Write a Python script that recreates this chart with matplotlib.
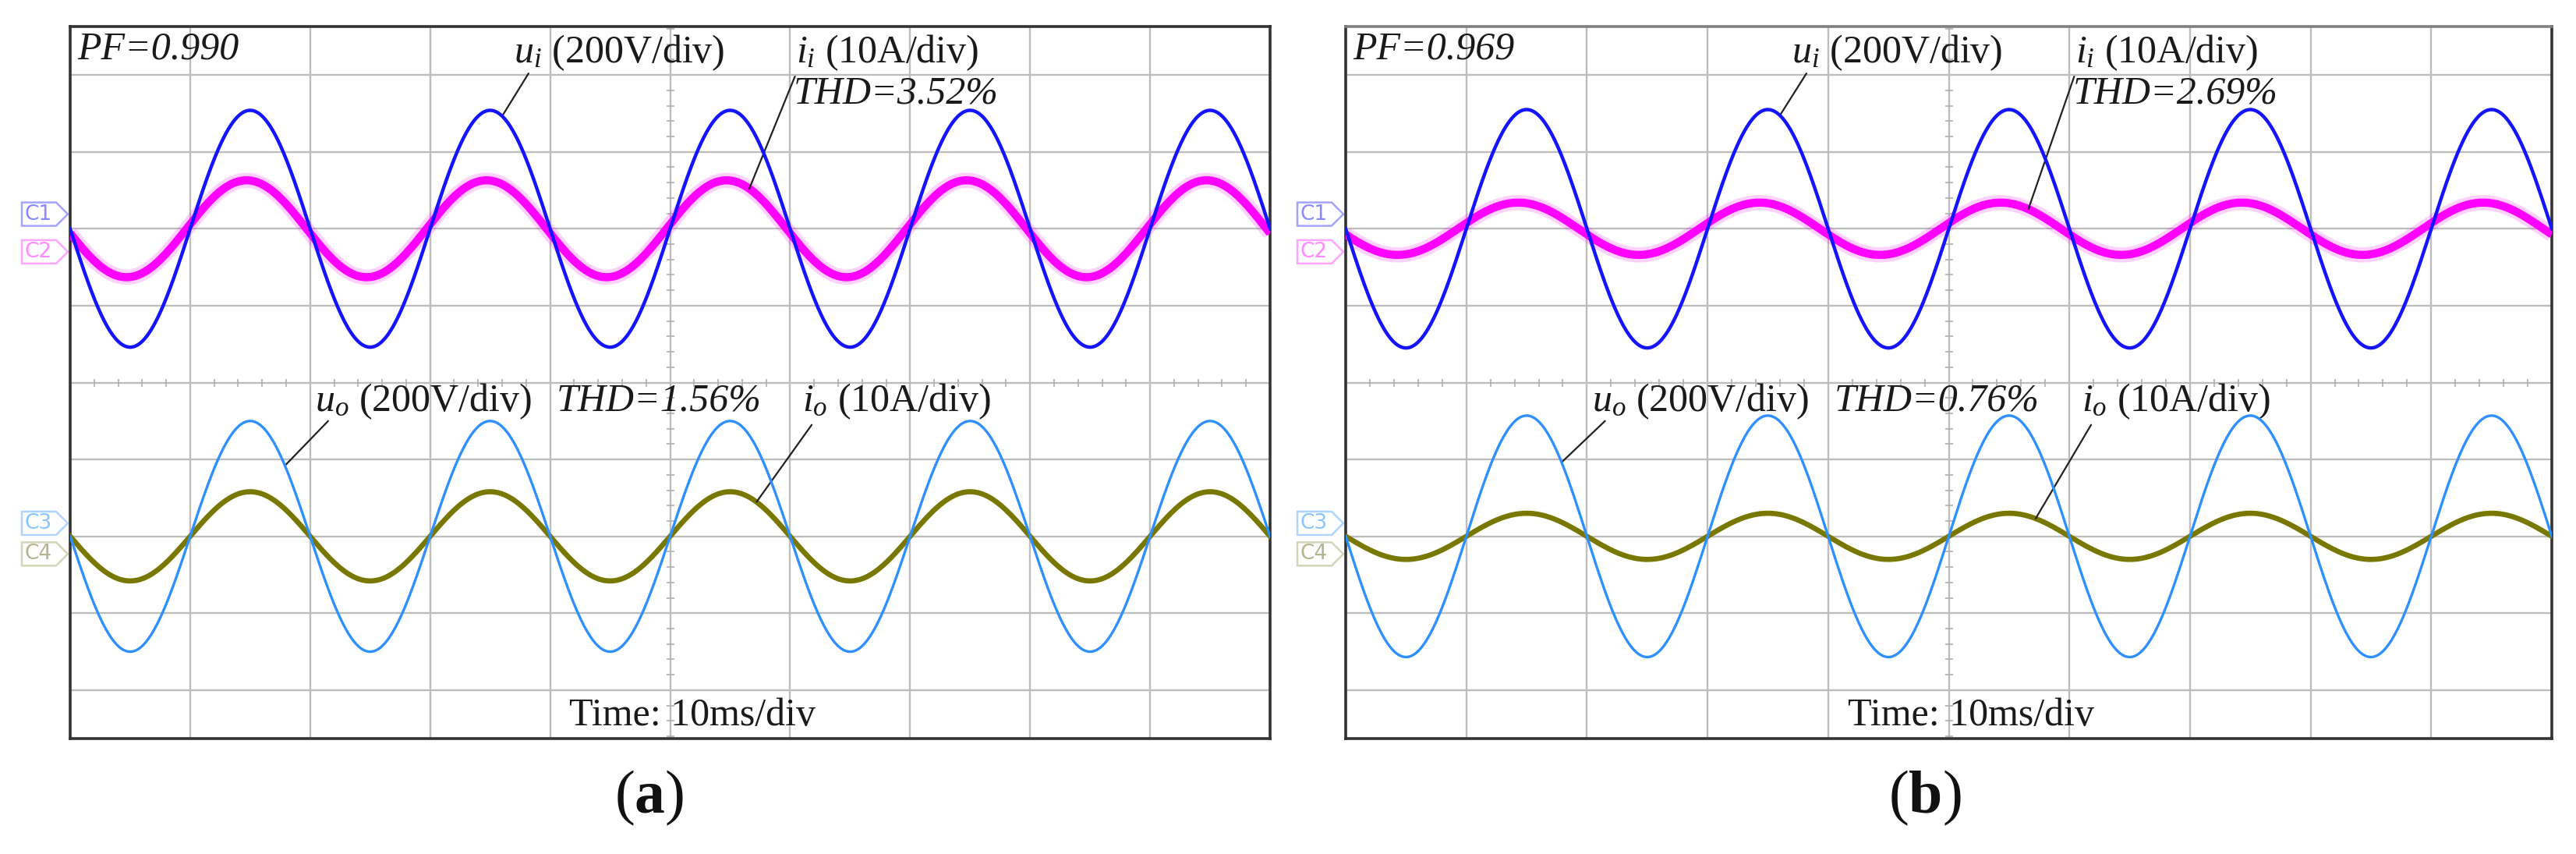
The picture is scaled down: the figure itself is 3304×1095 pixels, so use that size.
import numpy as np
import matplotlib
matplotlib.use('Agg')
from matplotlib import pyplot as plt
from matplotlib.patches import Polygon

plt.rcParams['font.family'] = 'Liberation Serif'
plt.rcParams['mathtext.fontset'] = 'custom'
plt.rcParams['mathtext.rm'] = 'Liberation Serif'
plt.rcParams['mathtext.it'] = 'Liberation Serif:italic'
plt.rcParams['mathtext.bf'] = 'Liberation Serif:bold'

# scope settings
time_per_div = 10.0    # ms/div
n_hdiv = 10
volt_per_div = 200.0   # V/div
amp_per_div = 10.0     # A/div
freq = 50.0            # Hz

panels = ['a', 'b']
pf = ['0.990', '0.969']
thd_in = ['3.52%', '2.69%']
thd_out = ['1.56%', '0.76%']

# peak values
ui_peak = [308.0, 310.0]   # V
ii_peak = [6.3, 3.4]       # A
uo_peak = [300.0, 314.0]   # V
io_peak = [5.8, 3.0]       # A
ii_lead = [0.3, 0.7]       # ms, input current ahead of input voltage

# channel reference levels (div from screen centre)
in_level = 2.0
out_level = -2.0

W, H = 3304, 1095
fig = plt.figure(figsize=(W / 100, H / 100), dpi=100)

frames = [(90, 1629), (1726, 3273)]   # left/right of each screen, px
top_px, bot_px = 34, 947
ymax = 4.63
px_per_vdiv = (bot_px - top_px) / (2 * ymax)

t = np.linspace(0, n_hdiv * time_per_div, 3001)   # ms
x = t / time_per_div


def wave(peak, per_div, level, lead=0.0):
    return level - peak / per_div * np.sin(2 * np.pi * freq * (t + lead) / 1000.0)


def tag(ax, wpx, y, label, edge, tc):
    hx = lambda p: p / wpx
    hy = 15 / px_per_vdiv
    verts = [(hx(-62), y - hy), (hx(-18), y - hy), (hx(-3), y),
             (hx(-18), y + hy), (hx(-62), y + hy)]
    ax.add_patch(Polygon(verts, closed=True, fill=False, edgecolor=edge, lw=1.8,
                         transform=ax.get_yaxis_transform(), clip_on=False))
    ax.text(hx(-41), y, label, transform=ax.get_yaxis_transform(), ha='center',
            va='center', color=tc, fontsize=19,
            family=['Liberation Sans Narrow', 'DejaVu Sans'])


fs = 36
tcol = '#1a1a1a'

for i, p in enumerate(panels):
    l, r = frames[i]
    wpx = r - l
    ax = fig.add_axes([l / W, 1 - bot_px / H, wpx / W, (bot_px - top_px) / H])
    ax.set_xlim(0, n_hdiv)
    ax.set_ylim(-ymax, ymax)
    ax.set_xticks([])
    ax.set_yticks([])
    for s in ax.spines.values():
        s.set_color('#333333')
        s.set_linewidth(2.6)
    if i == 1:
        ax.spines['top'].set_color('#808080')

    # graticule
    for k in range(1, n_hdiv):
        ax.axvline(k, color='#bdbdbd', lw=1.7, zorder=1)
    for k in range(-4, 5):
        ax.axhline(k, color='#bdbdbd', lw=1.7, zorder=1)
    mx = np.array([v / 5 for v in range(1, 5 * n_hdiv) if v % 5])
    ax.plot(mx, np.zeros_like(mx), ls='none', marker='|', ms=7, mew=1.2,
            color='#b0b0b0', zorder=1)
    my = np.array([v / 5 for v in range(-23, 24) if v % 5])
    ax.plot(np.full_like(my, 5.0), my, ls='none', marker='_', ms=7, mew=1.2,
            color='#b0b0b0', zorder=1)

    ui = wave(ui_peak[i], volt_per_div, in_level)
    ii = wave(ii_peak[i], amp_per_div, in_level, ii_lead[i])
    uo = wave(uo_peak[i], volt_per_div, out_level)
    io = wave(io_peak[i], amp_per_div, out_level)

    ax.plot(x, ii, color='#ff00ff', lw=14, alpha=0.18, zorder=2,
            solid_capstyle='butt')
    ax.plot(x, ii, color='#ff00ff', lw=7.5, zorder=3, solid_capstyle='butt')
    ax.plot(x, ui, color='#1414ff', lw=3.2, zorder=4)
    ax.plot(x, io, color='#787800', lw=4.8, zorder=3)
    ax.plot(x, uo, color='#2e90ff', lw=2.4, zorder=4)

    # texts
    ax.text(0.06, 4.33, 'PF=' + pf[i], style='italic', fontsize=fs, color=tcol,
            va='center', ha='left')
    ax.text(3.70, 4.29, r'$u_{i}$ (200V/div)', fontsize=fs, color=tcol,
            va='center', ha='left')
    ax.text(6.05, 4.29, r'$i_{i}$ (10A/div)', fontsize=fs, color=tcol,
            va='center', ha='left')
    ax.text(6.03, 3.76, 'THD=' + thd_in[i], style='italic', fontsize=fs,
            color=tcol, va='center', ha='left')
    ax.text(2.04, -0.24, r'$u_{o}$ (200V/div)', fontsize=fs, color=tcol,
            va='center', ha='left')
    ax.text(4.05, -0.24, 'THD=' + thd_out[i], style='italic', fontsize=fs,
            color=tcol, va='center', ha='left')
    ax.text(6.10, -0.24, r'$i_{o}$ (10A/div)', fontsize=fs, color=tcol,
            va='center', ha='left')
    ax.text(4.16, -4.33, 'Time: 10ms/div', fontsize=fs, color=tcol,
            va='center', ha='left')

    # leader lines: (text end) -> point on trace
    leaders = [(ui, (3.82, 4.02), 3.60), (ii, (6.04, 3.98), 5.66),
               (uo, (2.15, -0.50), 1.79), (io, (6.18, -0.55), 5.72)]
    for trace, start, xe in leaders:
        ye = np.interp(xe, x, trace)
        ax.annotate('', xy=(xe, ye), xytext=start,
                    arrowprops=dict(arrowstyle='-', color='#222222', lw=1.6,
                                    shrinkA=0, shrinkB=0))

    # channel markers
    tag(ax, wpx, 2.19, 'C1', '#a4a4ff', '#8a8aff')
    tag(ax, wpx, 1.70, 'C2', '#ffa4ff', '#ff8aff')
    tag(ax, wpx, -1.83, 'C3', '#aed4ff', '#8cc4ff')
    tag(ax, wpx, -2.23, 'C4', '#d4d4b8', '#b4b490')

    fig.text((l + 743) / W, 1 - 1023 / H, r'($\mathbf{%s}$)' % p, ha='center',
             va='center', fontsize=56, color='#111111')

fig.savefig('out.png', dpi=100)
